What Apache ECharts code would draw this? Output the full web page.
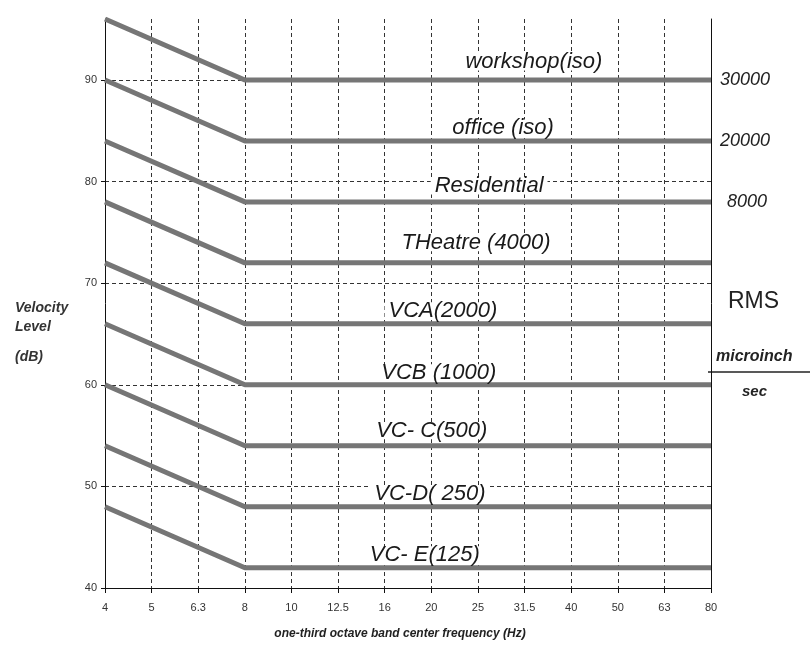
<!DOCTYPE html>
<html>
<head>
<meta charset="utf-8">
<script src="https://cdn.jsdelivr.net/npm/echarts@6/dist/echarts.min.js"></script>
<style>
  html, body { margin: 0; padding: 0; background: #fff; }
  #chart { width: 810px; height: 647px; }
</style>
</head>
<body>
<div id="chart"></div>
<script>
// one-third octave band center frequencies (Hz)
var frequencies = ['4', '5', '6.3', '8', '10', '12.5', '16', '20', '25', '31.5', '40', '50', '63', '80']
var curveNames = ['workshop(iso)', 'office (iso)', 'Residential', 'THeatre (4000)', 'VCA(2000)',
  'VCB (1000)', 'VC- C(500)', 'VC-D( 250)', 'VC- E(125)']
// velocity level (dB) of each curve at its corner frequencies
var breakFreqs = ['4', '8', '80']
var levelAt4Hz = [96, 90, 84, 78, 72, 66, 60, 54, 48]
var levelAt8Hz = [90, 84, 78, 72, 66, 60, 54, 48, 42]
var levelAt80Hz = [90, 84, 78, 72, 66, 60, 54, 48, 42]
// RMS microinch/sec values shown at the right end of the top curves
var rmsValues = ['30000', '20000', '8000']

// layout only: where each curve name sits (x index) and how far above its line (px)
var nameAtX = [9.2, 8.54, 8.24, 7.96, 7.25, 7.16, 7.01, 6.97, 6.86]
var nameLift = [18, 13, 16, 20, 13, 12, 15, 13, 13]
var rmsGap = [9, 9, 16]

var chart = echarts.init(document.getElementById('chart'))
var FONT = '"Liberation Sans", Arial, sans-serif'
var dash = { color: '#333', width: 1, type: [4, 3] }

var series = curveNames.map(function(name, i) {
  var marks = [{
    coord: [nameAtX[i], levelAt80Hz[i]],
    label: {
      formatter: name, offset: [0, -nameLift[i]], fontSize: 22, fontStyle: 'italic', color: '#1a1a1a', fontFamily: FONT,
      backgroundColor: '#fff', padding: [0, 4], lineHeight: 17
    }
  }]
  if (i < rmsValues.length) {
    marks.push({
      coord: [frequencies.indexOf('80'), levelAt80Hz[i]],
      label: { formatter: rmsValues[i], align: 'left', offset: [rmsGap[i], 0], fontSize: 18, fontStyle: 'italic', color: '#222', fontFamily: FONT }
    })
  }
  return {
    name: name,
    type: 'line',
    symbol: 'none',
    silent: true,
    lineStyle: { color: '#767676', width: 5 },
    data: [
      [frequencies.indexOf(breakFreqs[0]), levelAt4Hz[i]],
      [frequencies.indexOf(breakFreqs[1]), levelAt8Hz[i]],
      [frequencies.indexOf(breakFreqs[2]), levelAt80Hz[i]]
    ],
    markPoint: {
      symbol: 'circle',
      symbolSize: 0,
      label: { show: true, position: 'inside' },
      data: marks
    }
  }
})

chart.setOption({
  animation: false,
  backgroundColor: '#fff',
  grid: { left: 105, right: 99, top: 19, bottom: 59 },
  xAxis: {
    type: 'value',
    min: 0,
    max: frequencies.length - 1,
    interval: 1,
    name: 'one-third octave band center frequency (Hz)',
    nameLocation: 'middle',
    nameGap: 40,
    nameTextStyle: { fontSize: 12, fontWeight: 'bold', fontStyle: 'italic', color: '#222', fontFamily: FONT, padding: [0, 16, 0, 0] },
    axisLine: { lineStyle: { color: '#111', width: 1 } },
    axisTick: { show: true, length: 5, lineStyle: { color: '#111' } },
    axisLabel: {
      color: '#333',
      fontSize: 11,
      fontFamily: FONT,
      margin: 14,
      formatter: function(v) { return frequencies[v] }
    },
    splitLine: { show: true, showMinLine: false, showMaxLine: false, lineStyle: dash }
  },
  yAxis: [{
    type: 'value',
    min: 40,
    max: 96,
    interval: 10,
    axisLine: { show: true, lineStyle: { color: '#111', width: 1 } },
    axisTick: { show: true, length: 4, lineStyle: { color: '#111' } },
    axisLabel: { color: '#333', fontSize: 11, fontFamily: FONT, margin: 8, showMaxLabel: false },
    splitLine: { show: true, showMinLine: false, showMaxLine: false, lineStyle: dash }
  }, {
    type: 'value',
    position: 'right',
    min: 40,
    max: 96,
    interval: 10,
    axisLine: { show: true, lineStyle: { color: '#111', width: 1 } },
    axisTick: { show: false },
    axisLabel: { show: false },
    splitLine: { show: false }
  }],
  graphic: [
    { type: 'text', x: 15, y: 308, style: { text: 'Velocity', font: 'bold italic 14px ' + FONT, fill: '#333', verticalAlign: 'middle' } },
    { type: 'text', x: 15, y: 327, style: { text: 'Level', font: 'bold italic 14px ' + FONT, fill: '#333', verticalAlign: 'middle' } },
    { type: 'text', x: 15, y: 357, style: { text: '(dB)', font: 'bold italic 14px ' + FONT, fill: '#333', verticalAlign: 'middle' } },
    { type: 'text', x: 728, y: 302, style: { text: 'RMS', font: '23px ' + FONT, fill: '#222', verticalAlign: 'middle' } },
    { type: 'text', x: 716, y: 357, style: { text: 'microinch', font: 'bold italic 16px ' + FONT, fill: '#222', verticalAlign: 'middle' } },
    { type: 'line', shape: { x1: 708, y1: 372, x2: 810, y2: 372 }, style: { stroke: '#222', lineWidth: 1.5 } },
    { type: 'text', x: 742, y: 392, style: { text: 'sec', font: 'bold italic 15px ' + FONT, fill: '#222', verticalAlign: 'middle' } }
  ],
  series: series
})
</script>
</body>
</html>
